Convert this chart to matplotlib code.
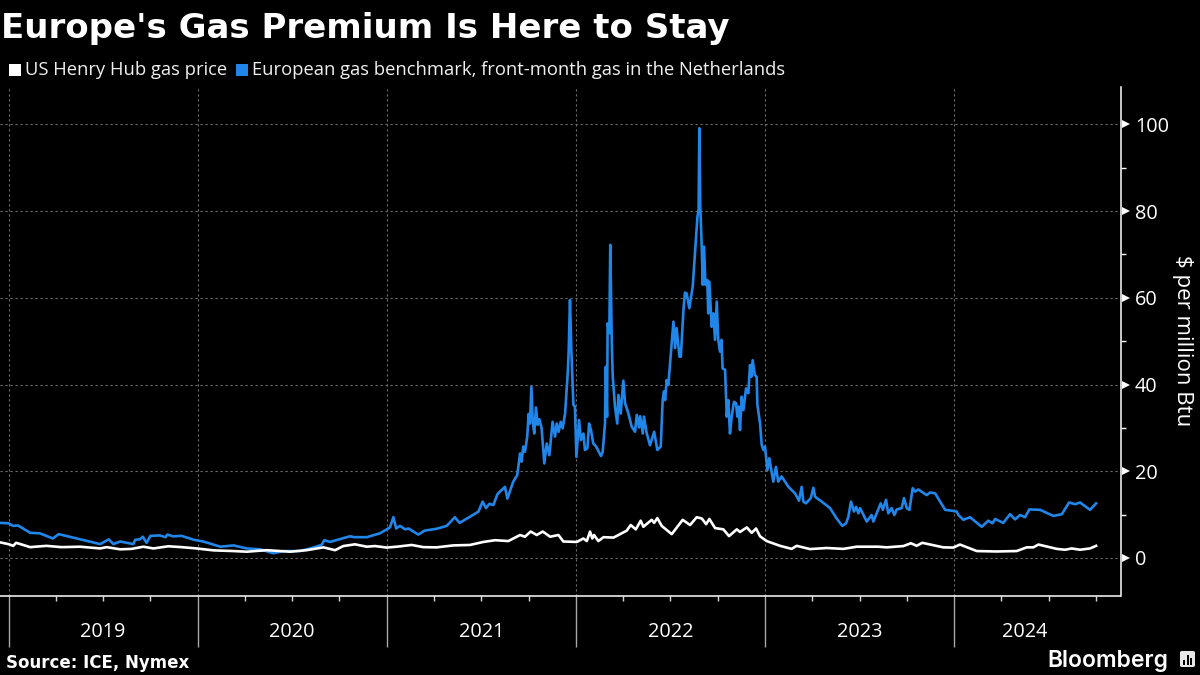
# Europe's gas premium chart
import numpy as np
import matplotlib
matplotlib.use("Agg")
import matplotlib.pyplot as plt
from matplotlib.patches import Rectangle, FancyBboxPatch

# x in decimal years, y in $ per million Btu
fechas_europa = [
    2018.955, 2019.0, 2019.025, 2019.05, 2019.115, 2019.165, 2019.235, 2019.265, 2019.36, 2019.415,
    2019.485, 2019.53, 2019.555, 2019.59, 2019.66, 2019.67, 2019.695, 2019.71, 2019.73, 2019.75,
    2019.80, 2019.83, 2019.84, 2019.87, 2019.915, 2019.98, 2020.03, 2020.12, 2020.19, 2020.26,
    2020.33, 2020.40, 2020.455, 2020.54, 2020.595, 2020.655, 2020.67, 2020.70, 2020.805, 2020.83,
    2020.895, 2020.965, 2021.017, 2021.035, 2021.05, 2021.07, 2021.097, 2021.115, 2021.167, 2021.2,
    2021.265, 2021.317, 2021.36, 2021.385, 2021.44, 2021.485, 2021.507, 2021.525, 2021.543, 2021.564,
    2021.585, 2021.625, 2021.638, 2021.669, 2021.69, 2021.705, 2021.713, 2021.722, 2021.731, 2021.743,
    2021.75, 2021.757, 2021.765, 2021.772, 2021.78, 2021.789, 2021.798, 2021.807, 2021.819, 2021.833,
    2021.846, 2021.86, 2021.877, 2021.89, 2021.899, 2021.909, 2021.92, 2021.93, 2021.943, 2021.957,
    2021.962, 2021.969, 2021.976, 2021.987, 2021.995, 2022.003, 2022.017, 2022.027, 2022.04, 2022.048,
    2022.061, 2022.07, 2022.08, 2022.092, 2022.107, 2022.121, 2022.133, 2022.142, 2022.154, 2022.158,
    2022.165, 2022.168, 2022.177, 2022.182, 2022.19, 2022.195, 2022.207, 2022.219, 2022.225, 2022.237,
    2022.251, 2022.26, 2022.278, 2022.295, 2022.313, 2022.322, 2022.334, 2022.34, 2022.354, 2022.36,
    2022.375, 2022.392, 2022.414, 2022.431, 2022.449, 2022.459, 2022.466, 2022.472, 2022.48, 2022.489,
    2022.507, 2022.516, 2022.525, 2022.533, 2022.548, 2022.555, 2022.569, 2022.577, 2022.586, 2022.6,
    2022.618, 2022.63, 2022.643, 2022.649, 2022.653, 2022.658, 2022.665, 2022.671, 2022.678, 2022.685,
    2022.695, 2022.7, 2022.706, 2022.718, 2022.727, 2022.736, 2022.745, 2022.753, 2022.762, 2022.77,
    2022.776, 2022.789, 2022.798, 2022.806, 2022.815, 2022.824, 2022.836, 2022.847, 2022.854, 2022.861,
    2022.868, 2022.877, 2022.886, 2022.9, 2022.912, 2022.921, 2022.928, 2022.935, 2022.946, 2022.956,
    2022.96, 2022.974, 2022.983, 2022.992, 2023.0, 2023.013, 2023.023, 2023.044, 2023.058, 2023.07,
    2023.088, 2023.124, 2023.159, 2023.18, 2023.194, 2023.203, 2023.217, 2023.242, 2023.256, 2023.265,
    2023.3, 2023.344, 2023.379, 2023.409, 2023.429, 2023.441, 2023.455, 2023.471, 2023.482, 2023.494,
    2023.503, 2023.538, 2023.564, 2023.573, 2023.605, 2023.612, 2023.623, 2023.64, 2023.652, 2023.67,
    2023.684, 2023.697, 2023.723, 2023.735, 2023.75, 2023.764, 2023.781, 2023.794, 2023.811, 2023.855,
    2023.873, 2023.9, 2023.926, 2023.953, 2023.988, 2024.014, 2024.023, 2024.049, 2024.084, 2024.146,
    2024.181, 2024.203, 2024.217, 2024.26, 2024.296, 2024.322, 2024.349, 2024.375, 2024.398, 2024.455,
    2024.525, 2024.57, 2024.608, 2024.64, 2024.666, 2024.719, 2024.751,
]
europa = [
    8.1, 8.0, 7.4, 7.5, 5.8, 5.7, 4.5, 5.5, 4.5, 3.9,
    3.2, 4.3, 3.2, 3.8, 3.2, 4.2, 4.3, 4.9, 3.5, 5.1,
    5.2, 4.8, 5.4, 5.0, 5.1, 4.2, 3.8, 2.6, 2.9, 2.2,
    2.0, 1.1, 1.6, 1.6, 2.2, 3.0, 4.1, 3.7, 5.0, 4.8,
    4.8, 5.7, 7.05, 9.4, 6.8, 7.4, 6.6, 6.8, 5.4, 6.3,
    6.75, 7.4, 9.4, 8.1, 9.5, 10.7, 13.0, 11.5, 12.5, 12.2,
    14.7, 16.4, 13.7, 17.6, 19.1, 24.1, 22.2, 25.7, 24.5, 28.0,
    33.2, 31.0, 39.5, 31.4, 28.7, 34.7, 30.7, 32.0, 29.9, 21.8,
    26.4, 23.7, 31.4, 28.0, 31.0, 29.1, 31.4, 29.9, 33.3, 42.6,
    47.6, 59.5, 48.0, 35.3, 34.9, 23.3, 31.8, 27.2, 28.7, 24.9,
    25.3, 31.0, 29.5, 26.4, 25.7, 24.5, 23.5, 24.5, 31.0, 44.1,
    32.6, 54.1, 51.8, 72.2, 49.5, 41.8, 34.9, 31.0, 37.6, 33.3,
    40.9, 35.7, 33.3, 30.3, 29.1, 33.0, 30.1, 32.7, 28.7, 32.6,
    28.7, 26.0, 29.1, 24.9, 25.7, 36.4, 38.4, 36.4, 41.0, 39.9,
    49.5, 54.5, 48.4, 53.0, 46.4, 46.4, 57.2, 61.2, 61.0, 57.6,
    62.6, 70.3, 78.7, 80.3, 99.1, 81.0, 72.6, 63.0, 71.8, 63.0,
    64.1, 56.4, 63.7, 53.3, 56.4, 50.3, 59.1, 50.3, 47.6, 50.3,
    43.7, 43.4, 32.6, 36.4, 28.7, 32.6, 36.0, 35.7, 32.6, 34.9,
    29.5, 37.2, 34.1, 39.1, 38.0, 44.5, 41.8, 45.6, 42.2, 41.8,
    35.3, 31.0, 26.0, 24.9, 25.7, 20.3, 23.0, 17.6, 21.0, 17.6,
    18.8, 16.4, 14.9, 13.2, 16.4, 13.0, 12.6, 13.8, 16.2, 14.1,
    13.0, 11.5, 9.1, 7.4, 8.0, 9.5, 13.0, 10.7, 11.8, 10.3,
    11.5, 8.4, 9.9, 8.4, 11.8, 12.6, 11.1, 13.4, 10.3, 11.5,
    9.9, 11.2, 11.5, 13.8, 11.5, 11.1, 16.1, 15.3, 15.8, 14.5,
    15.1, 14.9, 13.0, 11.1, 10.9, 10.7, 9.9, 8.8, 9.4, 7.2,
    8.6, 8.0, 9.0, 8.1, 10.1, 8.9, 9.9, 9.4, 11.2, 11.1,
    9.7, 10.1, 12.8, 12.4, 12.8, 11.1, 12.6,
]

fechas_henry = [
    2018.955, 2019.0, 2019.025, 2019.04, 2019.078, 2019.114, 2019.2, 2019.28, 2019.378, 2019.484,
    2019.519, 2019.59, 2019.651, 2019.713, 2019.766, 2019.845, 2019.916, 2019.995, 2020.083, 2020.189,
    2020.26, 2020.365, 2020.489, 2020.577, 2020.665, 2020.727, 2020.77, 2020.832, 2020.894, 2020.938,
    2021.0, 2021.053, 2021.132, 2021.194, 2021.264, 2021.352, 2021.44, 2021.511, 2021.573, 2021.643,
    2021.705, 2021.731, 2021.761, 2021.793, 2021.825, 2021.864, 2021.908, 2021.934, 2022.005, 2022.04,
    2022.058, 2022.075, 2022.087, 2022.096, 2022.119, 2022.146, 2022.199, 2022.269, 2022.29, 2022.317,
    2022.343, 2022.357, 2022.401, 2022.414, 2022.431, 2022.454, 2022.507, 2022.565, 2022.604, 2022.639,
    2022.666, 2022.689, 2022.706, 2022.736, 2022.78, 2022.81, 2022.851, 2022.868, 2022.904, 2022.93,
    2022.953, 2022.974, 2023.009, 2023.08, 2023.141, 2023.168, 2023.238, 2023.326, 2023.415, 2023.485,
    2023.6, 2023.644, 2023.732, 2023.772, 2023.802, 2023.832, 2023.943, 2023.996, 2024.031, 2024.12,
    2024.225, 2024.331, 2024.384, 2024.419, 2024.446, 2024.543, 2024.587, 2024.622, 2024.666, 2024.719,
    2024.751,
]
henry = [
    3.6, 3.2, 2.8, 3.5, 3.0, 2.5, 2.8, 2.5, 2.6, 2.2,
    2.5, 2.0, 2.1, 2.6, 2.2, 2.7, 2.5, 2.2, 1.76, 1.6,
    1.45, 1.8, 1.45, 1.8, 2.45, 1.8, 2.75, 3.15, 2.6, 2.75,
    2.4, 2.6, 3.0, 2.5, 2.45, 2.9, 3.0, 3.7, 4.1, 3.9,
    5.3, 4.9, 6.1, 5.3, 6.1, 4.9, 5.3, 3.8, 3.7, 4.5,
    3.9, 6.1, 4.5, 5.3, 3.9, 4.8, 4.7, 6.3, 7.6, 6.6,
    8.6, 7.2, 8.8, 8.1, 9.2, 7.4, 5.5, 8.8, 7.6, 9.4,
    9.1, 7.8, 9.0, 6.9, 6.6, 5.05, 6.6, 6.0, 7.05, 5.8,
    6.8, 5.0, 3.9, 2.8, 2.1, 2.8, 2.05, 2.3, 2.1, 2.6,
    2.6, 2.45, 2.75, 3.4, 2.8, 3.5, 2.45, 2.4, 3.1, 1.6,
    1.5, 1.6, 2.45, 2.45, 3.1, 2.1, 1.9, 2.2, 1.9, 2.2,
    2.8,
]

anos = [2019, 2020, 2021, 2022, 2023, 2024]
trimestres = [2019.25, 2019.5, 2019.75, 2020.25, 2020.5, 2020.75, 2021.25, 2021.5, 2021.75,
              2022.25, 2022.5, 2022.75, 2023.25, 2023.5, 2023.75, 2024.25, 2024.5, 2024.75]
marcas_y = [0, 20, 40, 60, 80, 100]
marcas_y_menores = [10, 30, 50, 70, 90]

titulo = "Europe's Gas Premium Is Here to Stay"
nombre_henry = "US Henry Hub gas price"
nombre_europa = "European gas benchmark, front-month gas in the Netherlands"
fuente = "Source: ICE, Nymex"

AZUL = "#2186e9"
BLANCO = "#ffffff"
GRIS = "#6e6e6e"
LETRA = "Open Sans"

W, H = 1200, 675

fig = plt.figure(figsize=(W / 100, H / 100), dpi=100, facecolor="black")
ax = fig.add_axes([0, 1 - 595.5 / H, 1120.5 / W, (595.5 - 87) / H], facecolor="black")

ax.set_xlim(2018.955, 2024.88)
ax.set_ylim(-8.65, 108.6)

# grid
for a in anos:
    ax.axvline(a, color=GRIS, lw=0.8, ls=(0, (2, 2.5)), zorder=1)
for v in marcas_y:
    ax.axhline(v, color=GRIS, lw=0.8, ls=(0, (2, 2.5)), zorder=1)

# lines
ax.plot(fechas_europa, europa, color=AZUL, lw=1.9, solid_joinstyle="round", zorder=3)
ax.plot(fechas_henry, henry, color=BLANCO, lw=1.9, solid_joinstyle="round", zorder=4)

# spines
for lado in ["top", "left"]:
    ax.spines[lado].set_visible(False)
for lado in ["right", "bottom"]:
    ax.spines[lado].set_color("white")
    ax.spines[lado].set_linewidth(1.1)

# x axis: long year ticks, short quarter ticks, names in the middle
ax.set_xticks(anos)
ax.set_xticks(trimestres, minor=True)
ax.set_xticklabels([])
ax.tick_params(axis="x", which="major", length=37, width=1, color="#a8a8a8")
ax.tick_params(axis="x", which="minor", length=3.5, width=1, color="#d8d8d8")
fin = [2020, 2021, 2022, 2023, 2024, 2024.75]
for a, b in zip(anos, fin):
    ax.text((a + b) / 2, -0.0725, str(a), transform=ax.get_xaxis_transform(), ha="center", va="center",
            color="white", fontsize=14.3, family=LETRA)

# y axis on the right, with little triangles on the labelled ticks
ax.yaxis.tick_right()
ax.set_yticks(marcas_y)
ax.set_yticks(marcas_y_menores, minor=True)
ax.tick_params(axis="y", which="major", length=0, pad=10.5, labelsize=14.3, labelcolor="white")
ax.tick_params(axis="y", which="minor", length=3.5, width=1, color="white")
for t in ax.get_yticklabels():
    t.set_family(LETRA)
ax.plot([1.0045] * len(marcas_y), marcas_y, ls="none", marker=">", ms=5.5, mfc="white", mec="white", mew=0,
        transform=ax.get_yaxis_transform(), clip_on=False, zorder=5)

fig.text(1183 / W, 1 - 341 / H, "$ per million Btu", rotation=270, ha="center", va="center",
         color="white", fontsize=16, family=LETRA, parse_math=False)

# title, legend, source
fig.text(1 / W, 1 - 38 / H, titulo, color="white", fontsize=24.5, fontweight="bold", family="DejaVu Sans",
         ha="left", va="baseline")

fig.add_artist(Rectangle((9 / W, 1 - 75.5 / H), 12 / W, 12 / H, transform=fig.transFigure, fc=BLANCO, ec="none"))
fig.text(25 / W, 1 - 70 / H, nombre_henry, color="#f0f0f0", fontsize=13.2, family=LETRA, ha="left", va="center")
fig.add_artist(Rectangle((236 / W, 1 - 75.5 / H), 12 / W, 12 / H, transform=fig.transFigure, fc=AZUL, ec="none"))
fig.text(252 / W, 1 - 70 / H, nombre_europa, color="#f0f0f0", fontsize=13.2, family=LETRA, ha="left", va="center")

fig.text(6 / W, 1 - 668 / H, fuente, color="white", fontsize=12, fontweight="bold", family="DejaVu Sans",
         ha="left", va="baseline")

# logo
fig.text(1168 / W, 1 - 667 / H, "Bloomberg", color="white", fontsize=16.5, fontweight="semibold", family="Inter",
         ha="right", va="baseline")
fig.add_artist(FancyBboxPatch((1180 / W, 1 - 667 / H), 15 / W, 16 / H, boxstyle="round,pad=0,rounding_size=0.002",
                              transform=fig.transFigure, fc="#e8e8e8", ec="none"))
for x0, alto in zip([1183, 1186.5, 1190], [5, 10, 7]):
    fig.add_artist(Rectangle((x0 / W, 1 - 665 / H), 2 / W, alto / H, transform=fig.transFigure, fc="black", ec="none"))

fig.savefig("out.png", dpi=100, facecolor="black")
